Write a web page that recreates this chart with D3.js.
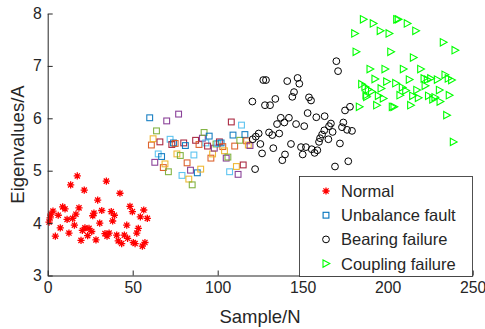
<!DOCTYPE html>
<html>
<head>
<meta charset="utf-8">
<script src="https://cdn.jsdelivr.net/npm/d3@7"></script>
<style>
  body { margin: 0; background: #fff; }
  svg { display: block; }
  text { font-family: "Liberation Sans", Arial, sans-serif; fill: #262626; }
</style>
</head>
<body>
<div id="chart"></div>
<script>
// values
var normalX = [0.8,1.4,1.9,3.1,4.5,6.2,7.4,8.8,10.2,11.4,12.5,13.5,14.7,15.7,16.6,17.4,18.4,19.6,20.4,21.5,21.9,23.5,24.3,25.9,26.5,27.2,28.4,29.4,30.6,31.8,33.7,34.5,34.9,36.1,37.4,38.2,39.2,40.6,41.5,42.5,43.5,45.1,46.5,47.0,48.4,49.8,50.4,51.4,52.4,53.3,54.5,55.7,56.5,57.2,58.6];
var normalY = [4.02,4.10,4.17,4.23,3.75,4.15,3.91,4.31,4.27,4.07,3.81,4.73,4.09,3.96,4.17,4.90,4.29,3.67,3.86,4.63,3.91,3.76,3.90,3.84,4.14,4.19,3.68,4.44,4.00,4.24,3.80,4.80,3.75,3.81,4.22,4.04,4.15,3.77,3.66,4.57,3.61,3.77,3.96,3.71,4.32,4.22,3.63,3.61,3.81,3.90,4.12,3.56,4.25,3.63,4.09];

var unbalX = [60,61,62,63,64,65,66,67,68,69,70,71,72,73,74,75,76,77,78,79,80,81,82,83,84,85,86,87,88,89,90,91,92,93,94,95,96,97,98,99,100,101,102,103,104,105,106,107,108,109,110,111,112,113,114,115,116,117,118,119];
var unbalY = [6.01,5.49,5.61,5.16,5.76,5.32,5.55,5.27,5.06,5.13,5.95,4.98,5.60,5.50,5.53,5.52,5.32,6.08,5.29,4.91,5.53,5.48,5.15,4.84,5.01,4.73,5.30,5.58,4.96,5.50,5.03,5.62,5.73,5.53,5.47,5.66,5.24,5.32,5.43,5.51,5.52,5.55,5.53,5.46,5.38,5.24,5.26,4.98,5.93,5.68,5.47,5.08,4.93,5.58,5.87,5.11,5.69,5.57,5.49,5.48];

var bearX = [120.4,120.6,122.0,122.4,124.1,125.1,126.1,126.8,127.8,128.4,130.2,130.8,132.1,132.7,133.9,134.9,136.2,137.1,138.0,139.2,139.6,140.9,141.9,143.1,143.9,144.9,146.1,147.0,148.0,149.0,150.0,150.9,151.9,152.9,153.7,154.9,155.3,157.0,158.0,158.6,159.6,160.2,161.4,162.7,162.9,165.1,165.5,166.6,167.6,169.0,169.8,170.8,171.9,173.1,173.9,174.9,176.1,176.8,177.8,179.0];
var bearY = [6.32,5.60,5.03,5.65,5.71,5.51,5.33,6.73,6.25,6.73,5.73,6.25,5.68,5.43,6.37,5.89,5.71,6.01,5.20,5.92,5.31,6.71,6.01,5.51,6.41,6.50,5.89,6.77,6.66,5.45,5.31,5.85,5.45,6.10,6.40,6.34,5.41,5.34,6.02,5.39,5.55,5.62,5.69,5.77,6.04,5.60,5.85,5.90,5.74,5.08,7.09,6.90,5.52,5.83,5.92,6.15,5.78,5.18,6.22,5.76];

var coupX = [180.6,181.4,183.3,184.7,185.7,186.6,187.2,187.6,188.6,189.6,190.5,191.5,192.5,193.5,194.5,195.6,196.1,197.4,198.4,199.4,200.8,201.8,202.7,203.7,204.7,205.3,206.2,207.2,208.6,209.2,210.6,211.5,212.7,213.5,214.7,215.1,216.5,217.1,218.0,219.4,221.4,222.0,223.3,224.0,225.3,226.5,227.8,229.2,230.4,230.8,232.7,233.7,234.7,235.6,236.2,237.6,238.6,239.6];
var coupY = [7.62,7.27,6.22,6.65,7.89,6.60,6.44,6.41,6.55,6.94,6.51,7.81,6.75,6.25,6.43,7.67,6.57,6.38,6.94,6.70,7.62,7.27,6.22,6.22,6.67,7.89,7.89,6.44,6.59,6.94,6.53,7.81,6.74,6.25,6.43,7.16,7.67,6.54,6.39,6.94,6.76,6.62,6.74,6.43,6.76,6.36,6.40,6.74,6.54,6.32,7.45,6.83,6.06,6.76,6.44,6.73,5.55,7.30];

var xTicks = [0, 50, 100, 150, 200, 250];
var yTicks = [3, 4, 5, 6, 7, 8];
var legendNames = ["Normal", "Unbalance fault", "Bearing failure", "Coupling failure"];

// MATLAB default colour order, used for the unbalance squares
var matlabColors = ["#0072BD", "#D95319", "#EDB120", "#7E2F8E", "#77AC30", "#4DBEEE", "#A2142F"];

var svgWidth = 485;
var svgHeight = 329;

var svg = d3.select("#chart")
  .append("svg")
  .attr("width", svgWidth)
  .attr("height", svgHeight);

var xScale = d3.scaleLinear().domain([0, 250]).range([47.7, 472.7]);
var yScale = d3.scaleLinear().domain([3, 8]).range([275.5, 13.5]);

// markers
var asterisk = "M-3.6,0H3.6M0,-3.6V3.6M-2.6,-2.6L2.6,2.6M-2.6,2.6L2.6,-2.6";
var triangle = "M-3,-3.7L-3,3.7L3.8,0Z";

function zip(xs, ys) {
  return xs.map(function (x, i) { return { x: x, y: ys[i], i: i }; });
}

var plot = svg.append("g");

plot.selectAll(".normal")
  .data(zip(normalX, normalY))
  .enter()
  .append("path")
  .attr("d", asterisk)
  .attr("transform", d => `translate(${xScale(d.x)},${yScale(d.y)})`)
  .attr("fill", "none")
  .attr("stroke", "#ff0000")
  .attr("stroke-width", 1.3);

plot.selectAll(".unbal")
  .data(zip(unbalX, unbalY))
  .enter()
  .append("rect")
  .attr("x", d => xScale(d.x) - 2.9)
  .attr("y", d => yScale(d.y) - 2.9)
  .attr("width", 5.8)
  .attr("height", 5.8)
  .attr("fill", "none")
  .attr("stroke", d => matlabColors[d.i % 7])
  .attr("stroke-opacity", 0.9)
  .attr("stroke-width", 1.1);

plot.selectAll(".bear")
  .data(zip(bearX, bearY))
  .enter()
  .append("circle")
  .attr("cx", d => xScale(d.x))
  .attr("cy", d => yScale(d.y))
  .attr("r", 3.4)
  .attr("fill", "none")
  .attr("stroke", "#000")
  .attr("stroke-width", 1);

plot.selectAll(".coup")
  .data(zip(coupX, coupY))
  .enter()
  .append("path")
  .attr("d", triangle)
  .attr("transform", d => `translate(${xScale(d.x)},${yScale(d.y)})`)
  .attr("fill", "none")
  .attr("stroke", "#00ff00")
  .attr("stroke-width", 1.1);

// axes, MATLAB style ticks pointing inward
var xAxis = d3.axisBottom(xScale).tickValues(xTicks).tickFormat(d3.format("d"))
  .tickSizeInner(-5).tickSizeOuter(0).tickPadding(6);
var yAxis = d3.axisLeft(yScale).tickValues(yTicks).tickFormat(d3.format("d"))
  .tickSizeInner(-5).tickSizeOuter(0).tickPadding(6);

var gx = svg.append("g")
  .attr("transform", "translate(0,275.5)")
  .call(xAxis);
var gy = svg.append("g")
  .attr("transform", "translate(47.7,0)")
  .call(yAxis);

[gx, gy].forEach(function (g) {
  g.select(".domain").attr("stroke", "#262626");
  g.selectAll(".tick line").attr("stroke", "#262626");
  g.selectAll(".tick text")
    .attr("font-size", "15.8px")
    .attr("font-family", "Liberation Sans, Arial, sans-serif")
    .attr("fill", "#262626");
});

// axis labels
svg.append("text")
  .attr("x", 260)
  .attr("y", 323)
  .attr("text-anchor", "middle")
  .attr("font-size", "18.5px")
  .text("Sample/N");

svg.append("text")
  .attr("transform", "translate(24,144.5) rotate(-90)")
  .attr("text-anchor", "middle")
  .attr("font-size", "18.5px")
  .text("Eigenvalues/A");

// legend
var legend = svg.append("g");
legend.append("rect")
  .attr("x", 299.5)
  .attr("y", 176.5)
  .attr("width", 173)
  .attr("height", 100)
  .attr("fill", "#fff")
  .attr("stroke", "#262626")
  .attr("stroke-width", 0.8);

var rows = legend.selectAll(".row")
  .data(legendNames)
  .enter()
  .append("g")
  .attr("transform", (d, i) => `translate(326,${191 + i * 24.2})`);

rows.each(function (d, i) {
  var g = d3.select(this);
  if (i === 0) {
    g.append("path").attr("d", asterisk).attr("fill", "none")
      .attr("stroke", "#ff0000").attr("stroke-width", 1.3);
  } else if (i === 1) {
    g.append("rect").attr("x", -2.9).attr("y", -2.9).attr("width", 5.8).attr("height", 5.8)
      .attr("fill", "none").attr("stroke", matlabColors[0]).attr("stroke-width", 1.1);
  } else if (i === 2) {
    g.append("circle").attr("r", 3.4).attr("fill", "none")
      .attr("stroke", "#000").attr("stroke-width", 1);
  } else {
    g.append("path").attr("d", triangle).attr("fill", "none")
      .attr("stroke", "#00ff00").attr("stroke-width", 1.1);
  }
  g.append("text")
    .attr("x", 15)
    .attr("dy", "0.36em")
    .attr("font-size", "16.5px")
    .attr("fill", "#000")
    .text(d);
});
</script>
</body>
</html>
